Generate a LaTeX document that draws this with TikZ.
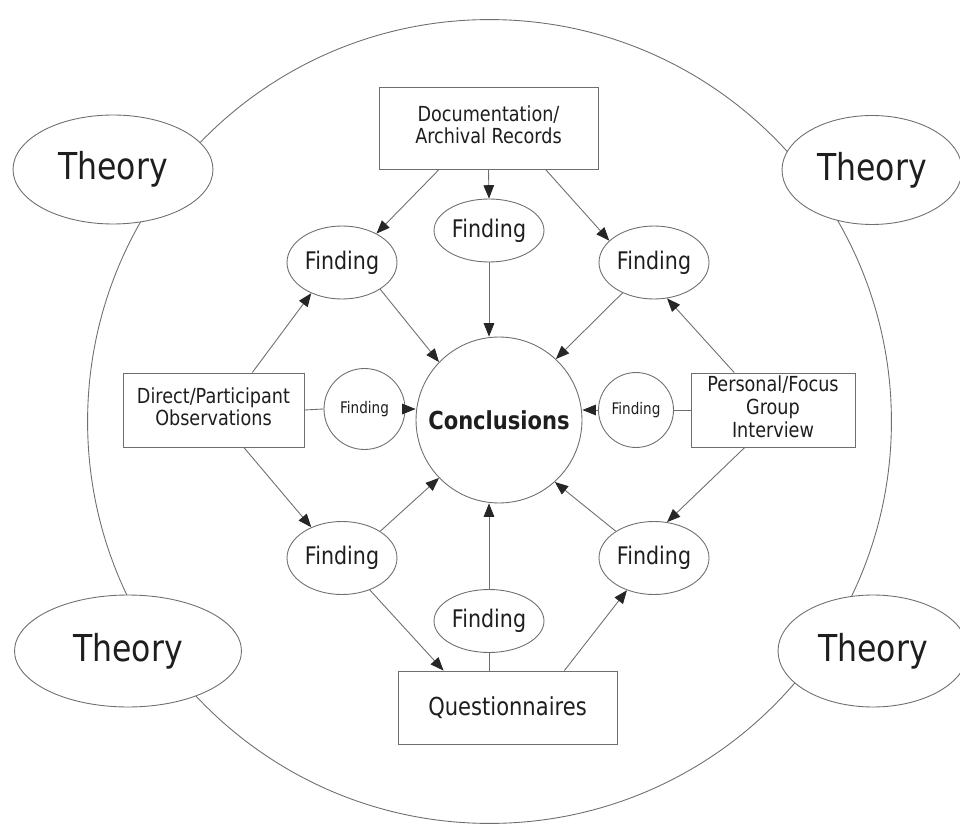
\documentclass[tikz,border=0pt]{standalone}
\usepackage{fontspec}
\setmainfont{DejaVu Sans}
\usetikzlibrary{shapes.geometric,arrows.meta,calc}
\definecolor{lncol}{HTML}{6E6E6E}
\definecolor{txt}{HTML}{1E1E1E}
\newcommand{\sx}[1]{\scalebox{0.85}[1]{#1}}
\newcommand{\twol}[2]{\sx{\begin{tabular}{@{}c@{}}#1\\#2\end{tabular}}}
\newcommand{\threel}[3]{\sx{\begin{tabular}{@{}c@{}}#1\\#2\\#3\end{tabular}}}
\begin{document}
\begin{tikzpicture}[x=0.02cm,y=-0.02cm,
  ln/.style={draw=lncol, line width=0.5pt},
  arr/.style={ln, -{Triangle[length=7.6pt,width=6pt,color=black!85]}},
  boxn/.style={draw=lncol, line width=0.5pt, rectangle, inner sep=0pt, fill=white, text=txt,
    font=\fontsize{11.8}{13}\selectfont},
  fell/.style={draw=lncol, line width=0.5pt, ellipse, inner sep=0pt, fill=white, text=txt,
    minimum width=2.2cm, font=\fontsize{13.8}{16}\selectfont},
  fsmall/.style={draw=lncol, line width=0.5pt, circle, inner sep=0pt, fill=white, text=txt,
    font=\fontsize{9.1}{11}\selectfont},
  theory/.style={draw=lncol, line width=0.5pt, ellipse, inner sep=0pt, fill=white, text=txt,
    font=\fontsize{21.1}{24}\selectfont}
]
\useasboundingbox (0,0) rectangle (960,824);
\fill[white] (0,0) rectangle (960,824);

% big circle
\coordinate (bigc) at (489.5,421.5);
\draw[lncol, line width=0.5pt] (bigc) circle[radius=8.04cm];

% theories
\node[theory, minimum width=4.0cm, minimum height=2.18cm] (thTL) at (113,169.5) {\sx{Theory}};
\node[theory, minimum width=3.6cm, minimum height=2.18cm] (thTR) at (872,170) {\sx{Theory}};
\node[theory, minimum width=4.54cm, minimum height=2.24cm] (thBL) at (128,651) {\sx{Theory}};
\node[theory, minimum width=3.8cm, minimum height=2.24cm] (thBR) at (873,651) {\sx{Theory}};

% sources
\node[boxn, minimum width=4.38cm, minimum height=1.64cm] (doc) at (488.5,128) {\twol{Documentation/}{Archival Records}};
\node[boxn, minimum width=3.62cm, minimum height=1.48cm] (dir) at (213.5,410) {\twol{Direct/Participant}{Observations}};
\node[boxn, minimum width=3.28cm, minimum height=1.48cm] (per) at (773,410) {\threel{Personal/Focus}{Group}{Interview}};
\node[boxn, minimum width=4.38cm, minimum height=1.46cm, font=\fontsize{14.1}{16}\selectfont] (que) at (507.5,707.5) {\sx{Questionnaires}};

% conclusions
\node[draw=lncol, line width=0.5pt, circle, minimum size=3.32cm, inner sep=0pt, text=txt,
  font=\bfseries\fontsize{14.1}{16}\selectfont] (concl) at (499,420) {\sx{Conclusions}};

% findings
\node[fell, minimum height=1.26cm] (fT) at (489,230.5) {\sx{Finding}};
\node[fell, minimum height=1.46cm] (fTL) at (342,262.5) {\sx{Finding}};
\node[fell, minimum height=1.46cm] (fTR) at (654,262.5) {\sx{Finding}};
\node[fell, minimum height=1.46cm] (fBL) at (342,558) {\sx{Finding}};
\node[fell, minimum height=1.46cm] (fBR) at (654,558) {\sx{Finding}};
\node[fell, minimum height=1.26cm] (fB) at (489,621) {\sx{Finding}};
\node[fsmall, minimum size=1.62cm] (fL) at (364.5,409) {\sx{Finding}};
\node[fsmall, minimum size=1.5cm] (fR) at (636,410) {\sx{Finding}};

% connectors from documentation
\draw[arr] (doc.south) -- (fT.north);
\draw[arr] (doc.220) -- (fTL.40);
\draw[arr] (doc.324) -- (fTR.154);
\draw[arr] (fT.south) -- (fT.south |- concl.north);
\draw[arr] (fTL.325) -- (concl.136);
\draw[arr] (fTR.224) -- (concl.47);

% direct observations
\draw[arr] (dir.44) -- (fTL.225);
\draw[ln] (dir.east) -- (fL.west);
\draw[arr] (fL.east) -- (fL.east -| concl.west);
\draw[arr] (dir.309) -- (fBL.135);

% personal interview
\draw[arr] (per.136) -- (fTR.290);
\draw[ln] (per.west) -- (fR.east);
\draw[arr] (fR.west) -- (fR.west -| concl.east);
\draw[arr] (per.233) -- (fBR.70);

% bottom findings
\draw[arr] (fBL.35) -- (concl.224);
\draw[arr] (fBR.145) -- (concl.312);
\draw[arr] (fB.north) -- (fB.north |- concl.south);
\draw[arr] (fBL.311) -- (que.150);
\draw[ln] (que.north -| fB.south) -- (fB.south);
\draw[arr] (que.33) -- (fBR.230);
\end{tikzpicture}
\end{document}
